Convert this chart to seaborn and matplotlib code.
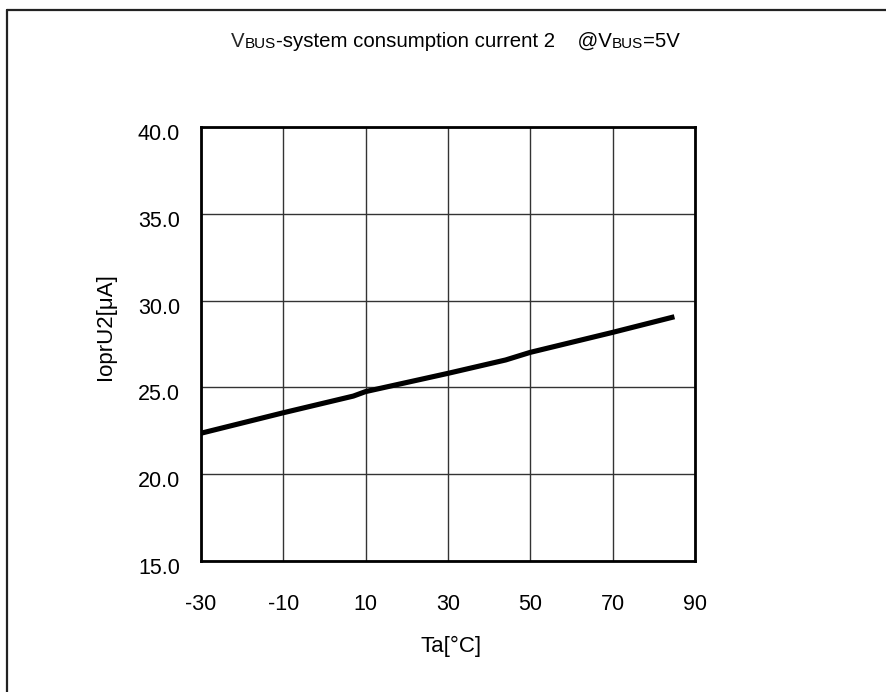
import matplotlib
matplotlib.use("Agg")
import matplotlib.pyplot as plt
import matplotlib.transforms as mtransforms
import seaborn as sns
import pandas as pd
from matplotlib.lines import Line2D

temps = [-30, -10, 7, 10, 30, 44, 50, 70, 85]
current = [22.36, 23.54, 24.50, 24.76, 25.81, 26.58, 27.02, 28.17, 29.07]
xticks = [-30, -10, 10, 30, 50, 70, 90]
yticks = [15.0, 20.0, 25.0, 30.0, 35.0, 40.0]

sns.set_theme(style="white")
plt.rcParams['font.family'] = ['Liberation Sans', 'DejaVu Sans']

fig = plt.figure(figsize=(8.87, 6.92), dpi=100)
ax = fig.add_axes([201/887, 1-561/692, (695-201)/887, (561-127)/692])

df = pd.DataFrame({"Ta": temps, "I": current})
sns.lineplot(data=df, x="Ta", y="I", ax=ax, color="black", linewidth=3.7,
             solid_capstyle="butt")

ax.set_xlim(-30, 90)
ax.set_ylim(15, 40)
ax.set_xticks(xticks)
ax.set_xticklabels([str(v) for v in xticks])
ax.set_yticks(yticks)
ax.set_yticklabels([f"{v:.1f}" for v in yticks])
ax.tick_params(axis="both", direction="in", length=6, width=1.0, color="#666666")
ax.tick_params(axis="x", pad=24, labelsize=15.5, labelcolor="black")
ax.tick_params(axis="y", pad=15, labelsize=15.5, labelcolor="black")
ax.grid(True, color="#333333", linewidth=1.0)
for s in ax.spines.values():
    s.set_color("black")
    s.set_linewidth(2.0)
    s.set_visible(True)

shift = mtransforms.ScaledTranslation(0, -5/100, fig.dpi_scale_trans)
for lab in ax.get_yticklabels():
    lab.set_transform(lab.get_transform() + shift)

ax.set_xlabel("")
ax.set_ylabel("")
fig.text(106/887, 1-327/692, "IoprU2[μA]", rotation=90, ha="center", va="center",
         fontsize=16, color="black")
fig.text(451/887, 1-646/692, "Ta[°C]", ha="center", va="center",
         fontsize=16, color="black")

# Title with small-caps "BUS"
big = 14.7
small = 11.0
t1 = fig.text(231/887, 1-47/692, "V", fontsize=big, ha="left", va="baseline")
parts = [("BUS", small), ("-system consumption current 2    @V", big),
         ("BUS", small), ("=5V", big)]
prev = t1
for txt, fs in parts:
    prev = ax.annotate(txt, xy=(1, 0), xycoords=prev, xytext=(0, 0),
                       textcoords="offset points", fontsize=fs,
                       ha="left", va="bottom", color="black",
                       annotation_clip=False)

# Outer frame (top and left edges)
fig.add_artist(Line2D([7/887, 1.0], [1-10/692, 1-10/692], color="#222222",
                      linewidth=1.6, transform=fig.transFigure))
fig.add_artist(Line2D([7/887, 7/887], [0.0, 1-10/692], color="#222222",
                      linewidth=1.6, transform=fig.transFigure))

fig.savefig("out.png", dpi=100, facecolor="white")
